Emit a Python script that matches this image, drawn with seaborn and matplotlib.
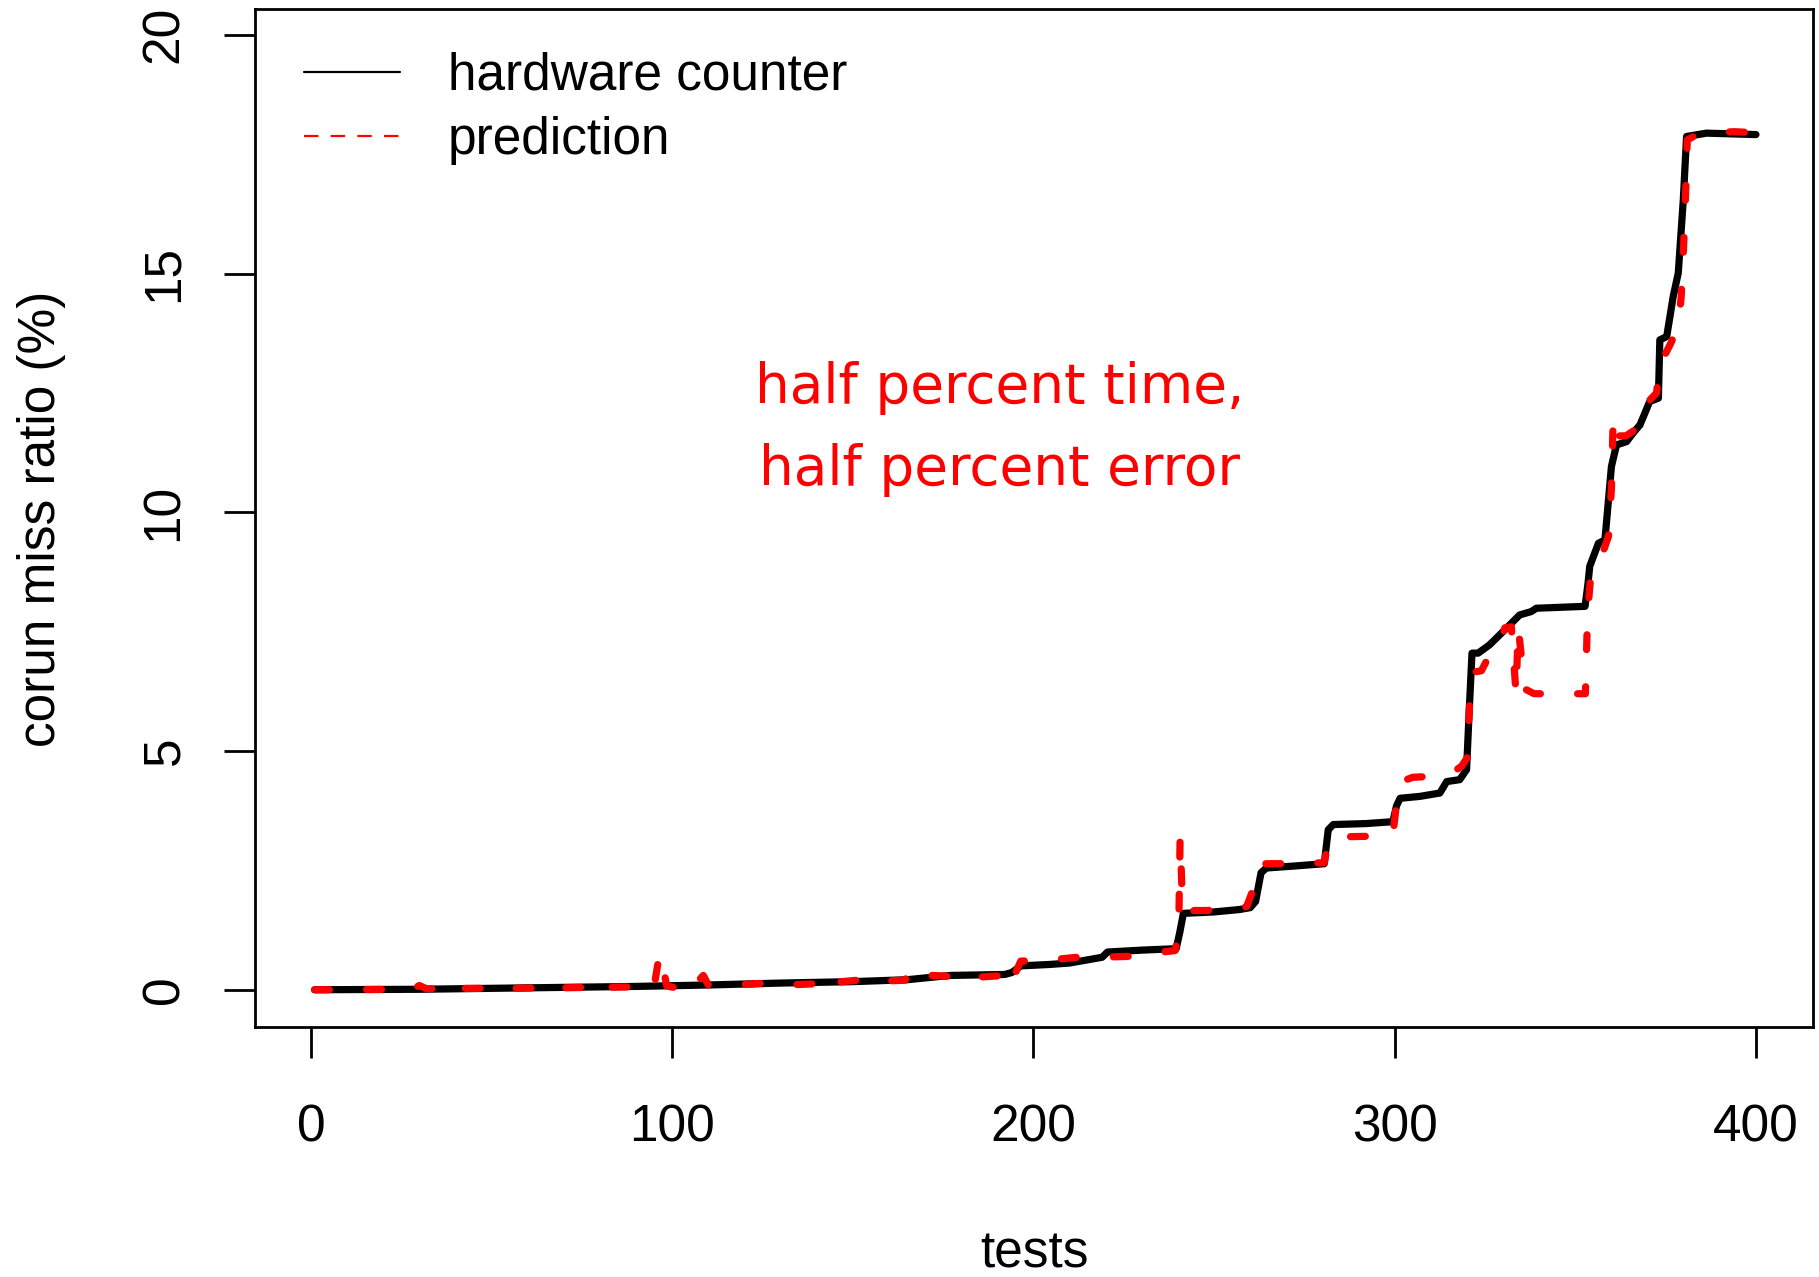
import pandas as pd
import matplotlib.pyplot as plt
import seaborn as sns
from matplotlib.lines import Line2D

# hardware counter curve (breakpoints)
hw_tests = [1, 30, 60, 90, 110,
            130, 150, 165, 177, 192,
            194, 196.5, 204.5, 210, 219,
            220.5, 230, 239.5, 240.5, 241.5,
            250, 257, 260, 261.5, 263,
            264.5, 272, 280.5, 281.6, 283,
            292, 299.5, 300.5, 301.5, 307,
            312.5, 314.4, 318, 319.9, 320.6,
            321.4, 323.1, 326.2, 328.1, 330.9,
            334.6, 337.8, 339.2, 352.7, 353.5,
            354, 356.4, 358.2, 360, 361.4,
            364.2, 366, 367.9, 370.6, 373,
            373.4, 375.3, 377.1, 378.5, 379.9,
            380.8, 386.3, 400]
hw_ratio = [0.0, 0.01, 0.04, 0.07, 0.10,
            0.14, 0.17, 0.21, 0.30, 0.32,
            0.36, 0.50, 0.53, 0.56, 0.68,
            0.79, 0.83, 0.86, 1.2, 1.60,
            1.63, 1.68, 1.72, 1.85, 2.45,
            2.55, 2.59, 2.64, 3.35, 3.46,
            3.48, 3.52, 3.85, 4.01, 4.05,
            4.12, 4.36, 4.40, 4.61, 5.8,
            7.05, 7.05, 7.22, 7.36, 7.57,
            7.85, 7.92, 7.99, 8.03, 8.5,
            8.87, 9.35, 9.42, 10.96, 11.41,
            11.48, 11.66, 11.83, 12.32, 12.39,
            13.61, 13.68, 14.52, 15.01, 16.55,
            17.87, 17.94, 17.91]

# prediction curve
pred_tests = [1, 28, 30, 32, 39,
              40.5, 42, 51, 53, 55,
              65, 67, 69, 77, 78.5,
              80, 89, 90.5, 92, 93,
              95, 96.5, 97.5, 98.5, 101,
              103, 104.5, 106, 108.6, 110,
              116, 122, 129, 131, 135,
              141, 142.7, 144, 152.8, 155,
              158, 164.5, 165.5, 167, 172,
              177, 182, 184, 186, 192,
              193, 194, 195, 196.5, 204,
              212, 218, 226.7, 232, 239.2,
              240.2, 240.6, 241.2, 241.6, 248,
              253, 259, 260.8, 261.8, 264,
              271, 280.5, 281.6, 283, 297,
              299.5, 300.5, 301.5, 305, 311,
              316, 318.5, 320, 320.8, 321.6,
              324, 325.5, 329, 330.5, 332.3,
              333.6, 334.2, 336, 338.6, 345,
              352.8, 353.4, 354.2, 356, 359.2,
              360, 360.5, 361.3, 364, 368,
              370, 372.5, 373.4, 374.5, 376.5,
              378.5, 379.3, 380, 380.6, 381,
              383, 387, 394, 400]
pred_ratio = [0.0, 0.01, 0.09, 0.02, 0.03,
              0.13, 0.03, 0.03, 0.09, 0.03,
              0.04, 0.13, 0.04, 0.05, 0.18,
              0.05, 0.06, 0.14, 0.09, 0.13,
              0.07, 0.77, 0.45, 0.08, 0.04,
              0.06, 0.22, 0.09, 0.30, 0.10,
              0.10, 0.12, 0.16, 0.12, 0.11,
              0.13, 0.30, 0.15, 0.21, 0.13,
              0.18, 0.20, 0.40, 0.22, 0.30,
              0.28, 0.38, 0.30, 0.27, 0.30,
              0.55, 0.32, 0.35, 0.60, 0.62,
              0.68, 0.68, 0.70, 0.76, 0.82,
              1.2, 3.2, 1.9, 1.66, 1.66,
              1.70, 1.74, 2.1, 2.58, 2.64,
              2.64, 2.66, 3.1, 3.2, 3.22,
              3.24, 3.9, 4.35, 4.45, 4.47,
              4.55, 4.68, 4.85, 6.1, 6.65,
              6.68, 6.9, 7.2, 7.58, 7.6,
              6.2, 7.6, 6.3, 6.2, 6.2,
              6.2, 7.9, 8.6, 8.8, 9.5,
              10.5, 12.0, 11.6, 11.6, 11.8,
              12.3, 12.5, 13.2, 13.25, 13.55,
              13.9, 14.5, 15.6, 16.8, 17.8,
              17.88, 17.95, 17.97, 17.95]

x_ticks = [0, 100, 200, 300, 400]
y_ticks = [0, 5, 10, 15, 20]
legend_labels = ["hardware counter", "prediction"]
note_lines = ["half percent time,", "half percent error"]

sns.set_style("ticks")
plt.rcParams['font.family'] = ['Liberation Sans', 'DejaVu Sans']
plt.rcParams['text.color'] = 'black'
plt.rcParams['axes.labelcolor'] = 'black'

hw_df = pd.DataFrame({'tests': hw_tests, 'ratio': hw_ratio})
pred_df = pd.DataFrame({'tests': pred_tests, 'ratio': pred_ratio})

W, H = 1819, 1277
fig = plt.figure(figsize=(W / 100, H / 100), dpi=100)
ax = fig.add_axes([255 / W, 1 - 1027 / H, 1558 / W, 1018 / H])

sns.lineplot(data=hw_df, x='tests', y='ratio', ax=ax, color='black',
             linewidth=5.2, sort=False, estimator=None,
             solid_capstyle='round', solid_joinstyle='round')
sns.lineplot(data=pred_df, x='tests', y='ratio', ax=ax, color='red',
             linewidth=5.2, sort=False, estimator=None,
             linestyle=(0, (2.05, 5.15)),
             dash_capstyle='round', dash_joinstyle='round')

ax.set_xlim(-15.5, 415.8)
ax.set_ylim(-0.78, 20.54)
ax.set_xticks(x_ticks)
ax.set_yticks(y_ticks)
ax.set_xlabel('')
ax.set_ylabel('')

ax.tick_params(direction='out', length=22, width=2, labelsize=37,
               color='black', labelcolor='black')
ax.tick_params(axis='x', pad=33)
ax.tick_params(axis='y', pad=25.5, labelrotation=90)
for lbl in ax.get_yticklabels():
    lbl.set_va('center')

for s in ax.spines.values():
    s.set_visible(True)
    s.set_linewidth(2)
    s.set_color('black')

# axis titles placed like R's base graphics
fig.text(1034 / W, 1 - 1268 / H, "tests", ha='center', va='baseline', fontsize=37)
fig.text(42 / W, 1 - 519 / H, "corun miss ratio (%)", ha='center', va='center',
         rotation=90, fontsize=37)

handles = [Line2D([], [], color='black', lw=1.6),
           Line2D([], [], color='red', lw=1.6, linestyle=(0, (6.5, 5.5)))]
ax.legend(handles, legend_labels, loc='upper left', bbox_to_anchor=(0.0315, 0.958),
          frameon=False, fontsize=37, handlelength=1.87, handletextpad=0.93,
          labelspacing=0.3, borderpad=0, borderaxespad=0)

ax.text(0.478, 1 - (403 - 9) / 1018, note_lines[0], transform=ax.transAxes,
        ha='center', va='baseline', color='red', fontsize=39.5, family='DejaVu Sans')
ax.text(0.478, 1 - (485 - 9) / 1018, note_lines[1], transform=ax.transAxes,
        ha='center', va='baseline', color='red', fontsize=39.5, family='DejaVu Sans')

fig.savefig('out.png', dpi=100)
